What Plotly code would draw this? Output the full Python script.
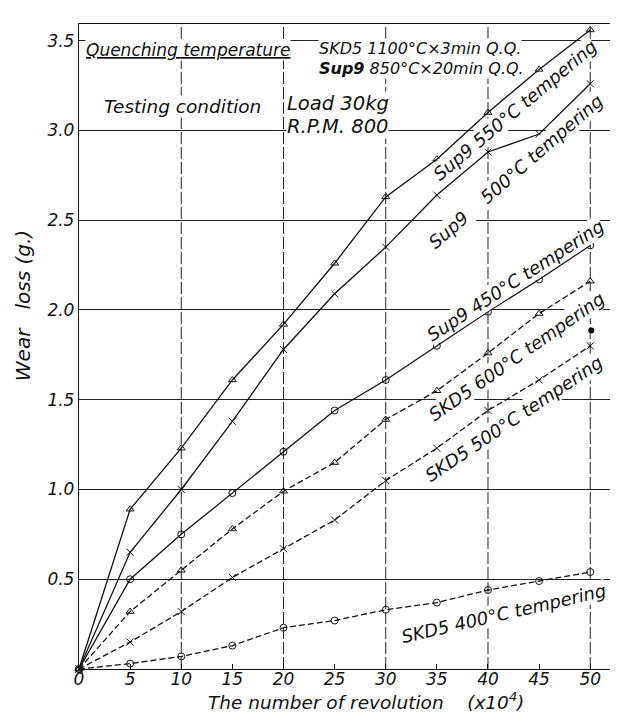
import plotly.graph_objects as go

# ---------------- data ----------------
REVOLUTIONS = [0, 5, 10, 15, 20, 25, 30, 35, 40, 45, 50]          # x10^4
SUP9_550 = [0, 0.89, 1.23, 1.61, 1.92, 2.26, 2.63, 2.84, 3.10, 3.34, 3.56]
SUP9_500 = [0, 0.65, 1.00, 1.38, 1.78, 2.09, 2.35, 2.64, 2.88, 2.98, 3.26]
SUP9_450 = [0, 0.50, 0.75, 0.98, 1.21, 1.44, 1.61, 1.80, 1.99, 2.17, 2.36]
SKD5_600 = [0, 0.32, 0.55, 0.78, 0.99, 1.15, 1.39, 1.55, 1.76, 1.98, 2.16]
SKD5_500 = [0, 0.15, 0.32, 0.51, 0.67, 0.83, 1.05, 1.23, 1.44, 1.61, 1.80]
SKD5_400 = [0, 0.03, 0.07, 0.13, 0.23, 0.27, 0.33, 0.37, 0.44, 0.49, 0.54]
STRAY_X = [50.1]
STRAY_Y = [1.885]

X_TICKS = [0, 5, 10, 15, 20, 25, 30, 35, 40, 45, 50]
X_TICKTEXT = ["0", "5", "10", "15", "20", "25", "30", "35", "40", "45", "50"]
X_GRID = [10, 20, 30, 40, 50]
Y_TICKS = [0.5, 1.0, 1.5, 2.0, 2.5, 3.0, 3.5]
Y_TICKTEXT = ["0.5", "1.0", "1.5", "2.0", "2.5", "3.0", "3.5"]

FONT = "DejaVu Sans"
INK = "#111111"

fig = go.Figure()

series = [
    (SUP9_550, "triangle-up-open", "solid", "Sup9 550°C tempering"),
    (SUP9_500, "x-thin-open", "solid", "Sup9 500°C tempering"),
    (SUP9_450, "circle-open", "solid", "Sup9 450°C tempering"),
    (SKD5_600, "triangle-up-open", "6px,3px", "SKD5 600°C tempering"),
    (SKD5_500, "x-thin-open", "6px,3px", "SKD5 500°C tempering"),
    (SKD5_400, "circle-open", "6px,3px", "SKD5 400°C tempering"),
]
for ys, sym, dash, name in series:
    fig.add_trace(go.Scatter(
        x=REVOLUTIONS, y=ys, name=name, mode="lines+markers",
        line=dict(color=INK, width=1.3, dash=dash),
        marker=dict(symbol=sym, size=7, color=INK, line=dict(color=INK, width=1)),
        cliponaxis=False,
    ))

fig.add_trace(go.Scatter(x=STRAY_X, y=STRAY_Y, mode="markers",
                         marker=dict(size=6, color=INK), showlegend=False))

shapes = []
for v in X_GRID:
    shapes.append(dict(type="line", xref="x", yref="paper", x0=v, x1=v, y0=0, y1=1,
                       line=dict(color="#222222", width=1, dash="12px,3px"), layer="below"))

def ann(text, x, y, size, angle=0, xanchor="center", bg="white", **kw):
    d = dict(text=text, x=x, y=y, xref="x", yref="y", showarrow=False,
             textangle=angle, xanchor=xanchor, yanchor="middle",
             font=dict(family=FONT, size=size, color=INK, style="italic"),
             bgcolor=bg, borderpad=0)
    d.update(kw)
    return d

annotations = [
    ann("<u>Quenching temperature</u>", 0.55, 3.447, 17, xanchor="left"),
    ann("SKD5 1100°C×3min Q.Q.", 23.4, 3.458, 16, xanchor="left"),
    ann("<b>Sup9</b> 850°C×20min Q.Q.", 23.4, 3.347, 16, xanchor="left"),
    ann("Testing condition", 2.3, 3.135, 18.5, xanchor="left"),
    ann("Load 30kg", 20.2, 3.151, 19.5, xanchor="left"),
    ann("R.P.M. 800", 20.2, 3.023, 19.5, xanchor="left"),
    ann("Sup9 550°C tempering", 42.6, 3.11, 18, angle=-40),
    ann("Sup9\u00a0\u00a0\u00a0\u00a0500°C tempering", 42.7, 2.77, 18, angle=-41),
    ann("Sup9 450°C tempering", 42.64, 2.166, 18, angle=-33),
    ann("SKD5 600°C tempering", 42.8, 1.74, 18, angle=-35),
    ann("SKD5 500°C tempering", 42.54, 1.396, 18, angle=-34),
    ann("SKD5 400°C tempering", 41.5, 0.31, 18, angle=-13),
    dict(text="Wear\u00a0\u00a0\u00a0loss (g.)", x=-0.1026, y=0.564, xref="paper", yref="paper",
         showarrow=False, textangle=-90, xanchor="center", yanchor="middle",
         font=dict(family=FONT, size=20, color=INK, style="italic")),
    dict(text="The number of revolution\u00a0\u00a0\u00a0\u00a0(x10<sup>4</sup>)", x=0.5256, y=-0.05,
         xref="paper", yref="paper", showarrow=False, xanchor="center", yanchor="middle",
         font=dict(family=FONT, size=18.5, color=INK, style="italic")),
]

fig.update_layout(
    width=618, height=713,
    margin=dict(l=71, r=1, t=16, b=52),
    paper_bgcolor="white", plot_bgcolor="white",
    showlegend=False,
    shapes=shapes, annotations=annotations,
    xaxis=dict(range=[0, 53.4], tickvals=X_TICKS, ticktext=X_TICKTEXT,
               ticks="inside", ticklen=5, tickcolor=INK, showgrid=False,
               showline=True, linecolor=INK, linewidth=1.3, mirror=True, zeroline=False,
               ticklabelstandoff=-6,
               tickfont=dict(family=FONT, size=17, color=INK, style="italic")),
    yaxis=dict(range=[0, 3.593], tickvals=Y_TICKS, ticktext=Y_TICKTEXT,
               ticks="", showgrid=True, gridcolor="#222222", gridwidth=1,
               showline=True, linecolor=INK, linewidth=1.3, mirror=False, zeroline=False,
               tickfont=dict(family=FONT, size=17, color=INK, style="italic")),
)

fig.write_html("out.html")
